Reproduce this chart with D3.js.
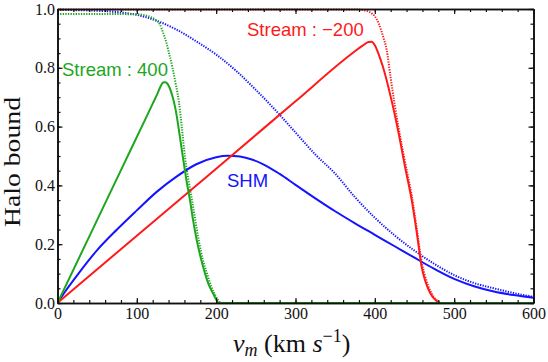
<!DOCTYPE html>
<html>
<head>
<meta charset="utf-8">
<script src="https://cdn.jsdelivr.net/npm/d3@7"></script>
<style>
  body { margin: 0; background: #fff; }
  svg { display: block; }
</style>
</head>
<body>
<div id="chart"></div>
<script>
var width  = 548;
var height = 362;

// tick labels
var xTicks = [0, 100, 200, 300, 400, 500, 600];
var yTicks = [0, 0.2, 0.4, 0.6, 0.8, 1.0];

// SHM (blue)
var shmV      = [0, 10, 25, 50, 75, 100, 125, 150, 175, 200, 215, 230, 245, 260, 280, 300, 325, 350, 375, 400, 425, 450, 475, 500, 525, 550, 575, 600];
var shmSolid  = [0, 0.04, 0.095, 0.18, 0.25, 0.315, 0.378, 0.43, 0.472, 0.496, 0.501, 0.498, 0.488, 0.471, 0.439, 0.402, 0.356, 0.312, 0.271, 0.232, 0.193, 0.154, 0.116, 0.082, 0.057, 0.039, 0.027, 0.018];
var shmDotV   = [0, 50, 80, 100, 125, 150, 175, 200, 225, 250, 275, 300, 325, 350, 375, 400, 425, 450, 475, 500, 525, 550, 575, 600];
var shmDotted = [0.997, 0.994, 0.988, 0.98, 0.96, 0.93, 0.89, 0.845, 0.79, 0.725, 0.655, 0.58, 0.505, 0.44, 0.36, 0.29, 0.23, 0.178, 0.133, 0.095, 0.068, 0.05, 0.034, 0.021];

// Stream : -200 (red)
var redV      = [0, 100, 200, 300, 370, 385, 392, 396, 400, 405, 410, 421, 430, 438, 446.5, 453, 459, 463, 467, 472, 477, 482, 600];
var redSolid  = [0, 0.229, 0.457, 0.686, 0.846, 0.876, 0.888, 0.889, 0.877, 0.845, 0.805, 0.69, 0.577, 0.464, 0.35, 0.237, 0.123, 0.08, 0.05, 0.024, 0.009, 0, 0];
var redDotV   = [0, 200, 380, 388, 395, 400, 405, 410, 415, 420, 425, 430, 438, 446.5, 453, 459, 463, 467, 472, 477, 484, 600];
var redDotted = [0.998, 0.998, 0.998, 0.995, 0.987, 0.975, 0.95, 0.91, 0.86, 0.765, 0.675, 0.595, 0.48, 0.365, 0.25, 0.14, 0.095, 0.06, 0.03, 0.012, 0, 0];

// Stream : 400 (green)
var greenV      = [0, 40, 80, 110, 120, 126, 130, 133, 136, 140, 143, 146, 149, 152, 155, 158.6, 163, 167, 171, 175.5, 180, 186, 191, 196, 200, 203, 600];
var greenSolid  = [0, 0.226, 0.452, 0.621, 0.678, 0.712, 0.737, 0.75, 0.751, 0.74, 0.72, 0.692, 0.656, 0.607, 0.552, 0.486, 0.41, 0.35, 0.28, 0.214, 0.16, 0.1, 0.06, 0.033, 0.012, 0, 0];
var greenDotV   = [0, 60, 100, 110, 118, 124, 129, 133, 137, 141, 145, 149, 153, 157, 161, 165, 169.5, 178, 183, 188.5, 194, 199, 203, 206, 600];
var greenDotted = [0.983, 0.983, 0.982, 0.979, 0.972, 0.962, 0.948, 0.92, 0.888, 0.845, 0.8, 0.745, 0.685, 0.59, 0.49, 0.42, 0.35, 0.214, 0.15, 0.1, 0.055, 0.025, 0.008, 0, 0];

var blue  = '#1414ff';
var red   = '#ff1a1a';
var green = '#1ea61e';

var serif = '"Liberation Serif", "Times New Roman", serif';

var svg = d3.select('#chart')
  .append('svg')
  .attr('width', width)
  .attr('height', height);

var x = d3.scaleLinear().domain([0, 600]).range([57.5, 533.5]);
var y = d3.scaleLinear().domain([0, 1]).range([303, 9]);

var zip = function(vs, ys) {
  return vs.map(function(v, i) { return [v, ys[i]]; });
};

var line = d3.line()
  .x(function(d) { return x(d[0]); })
  .y(function(d) { return y(d[1]); })
  .curve(d3.curveMonotoneX);

svg.append('clipPath').attr('id', 'clip')
  .append('rect')
  .attr('x', 57.5).attr('y', 8).attr('width', 476).attr('height', 296);

var plot = svg.append('g').attr('clip-path', 'url(#clip)');

var series = [
  { v: shmDotV,   y: shmDotted,   color: blue,  dotted: true },
  { v: redDotV,   y: redDotted,   color: red,   dotted: true },
  { v: greenDotV, y: greenDotted, color: green, dotted: true },
  { v: shmV,      y: shmSolid,    color: blue,  dotted: false },
  { v: redV,      y: redSolid,    color: red,   dotted: false },
  { v: greenV,    y: greenSolid,  color: green, dotted: false }
];

plot.selectAll('path.curve')
  .data(series)
  .enter()
  .append('path')
  .attr('class', 'curve')
  .attr('d', function(d) { return line(zip(d.v, d.y)); })
  .style('fill', 'none')
  .style('stroke', function(d) { return d.color; })
  .style('stroke-width', 2)
  .style('stroke-dasharray', function(d) { return d.dotted ? '1.3,1.3' : null; });

// axes, ticks pointing inward on all four sides
var minorX = d3.range(0, 601, 20);
var minorY = d3.range(0, 1.001, 0.05);

var drawAxis = function(axis, tf, labels) {
  var g = svg.append('g').attr('transform', tf).call(axis);
  g.select('.domain').style('stroke', '#111').style('stroke-width', 1.6);
  g.selectAll('.tick line').style('stroke', '#111').style('stroke-width', 1.2);
  g.selectAll('text')
    .style('font-family', serif)
    .style('font-size', '16px')
    .style('fill', '#111');
  if (!labels) g.selectAll('text').remove();
  return g;
};

drawAxis(d3.axisBottom(x).tickValues(minorX).tickSize(-3).tickSizeOuter(0).tickFormat(''), 'translate(0,303)', false);
drawAxis(d3.axisTop(x).tickValues(minorX).tickSize(-3).tickSizeOuter(0).tickFormat(''), 'translate(0,9)', false);
drawAxis(d3.axisLeft(y).tickValues(minorY).tickSize(-3).tickSizeOuter(0).tickFormat(''), 'translate(57.5,0)', false);
drawAxis(d3.axisRight(y).tickValues(minorY).tickSize(-3).tickSizeOuter(0).tickFormat(''), 'translate(533.5,0)', false);

drawAxis(d3.axisBottom(x).tickValues(xTicks).tickSize(-5).tickSizeOuter(0).tickPadding(5).tickFormat(d3.format('d')), 'translate(0,303)', true);
drawAxis(d3.axisTop(x).tickValues(xTicks).tickSize(-5).tickSizeOuter(0), 'translate(0,9)', false);
drawAxis(d3.axisLeft(y).tickValues(yTicks).tickSize(-5).tickSizeOuter(0).tickPadding(2.5).tickFormat(d3.format('.1f')), 'translate(57.5,0)', true);
drawAxis(d3.axisRight(y).tickValues(yTicks).tickSize(-5).tickSizeOuter(0), 'translate(533.5,0)', false);

// axis titles
svg.append('text')
  .attr('transform', 'translate(20,162)rotate(-90)')
  .attr('text-anchor', 'middle')
  .attr('textLength', 130)
  .attr('lengthAdjust', 'spacingAndGlyphs')
  .style('font-family', serif)
  .style('font-size', '24px')
  .style('fill', '#111')
  .text('Halo bound');

var xt = svg.append('text')
  .attr('x', 233)
  .attr('y', 352)
  .style('font-family', serif)
  .style('font-size', '26px')
  .style('fill', '#111');
xt.append('tspan').style('font-style', 'italic').text('v');
xt.append('tspan').style('font-style', 'italic').style('font-size', '18px').attr('dy', 4).text('m');
xt.append('tspan').attr('dy', -4).text(' (km ');
xt.append('tspan').style('font-style', 'italic').text('s');
xt.append('tspan').style('font-size', '18px').attr('dy', -10).text('\u22121');
xt.append('tspan').attr('dy', 10).text(')');

// curve labels
var labels = [
  { text: 'Stream : 400',       x: 62,  y: 76,  color: green },
  { text: 'Stream : \u2212200', x: 247, y: 36,  color: red },
  { text: 'SHM',                x: 227, y: 187, color: blue }
];

svg.selectAll('text.lbl')
  .data(labels)
  .enter()
  .append('text')
  .attr('class', 'lbl')
  .attr('x', function(d) { return d.x; })
  .attr('y', function(d) { return d.y; })
  .style('font-family', '"Liberation Sans", Arial, sans-serif')
  .style('font-size', '18.5px')
  .style('fill', function(d) { return d.color; })
  .text(function(d) { return d.text; });
</script>
</body>
</html>
